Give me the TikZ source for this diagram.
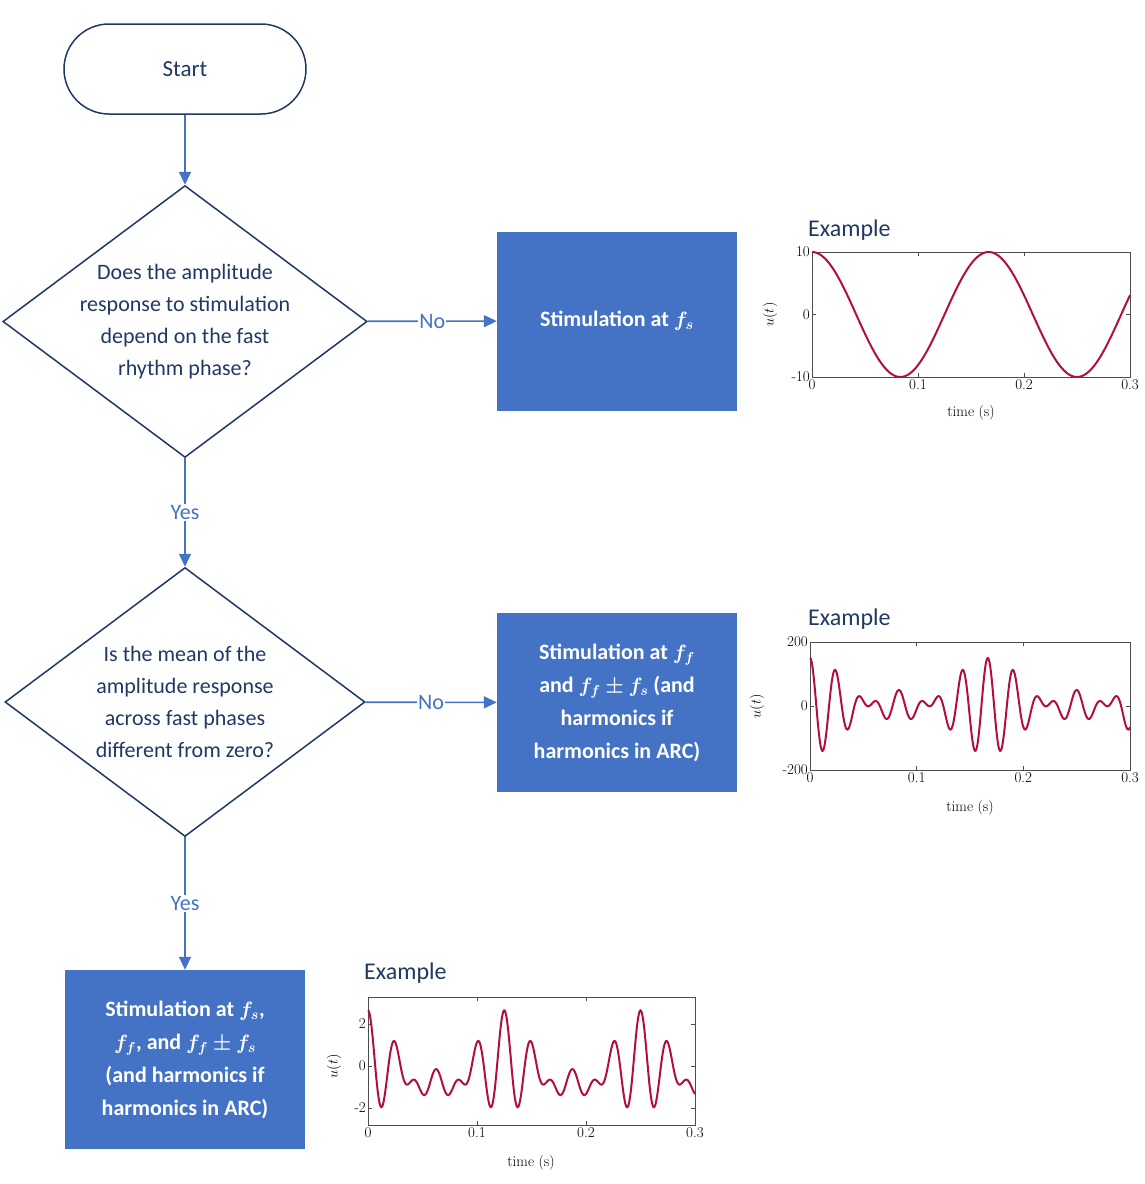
\documentclass[tikz,border=0pt]{standalone}
\usepackage{amsmath,bm}
\usepackage{fontspec}
\setmainfont{Carlito}
\usetikzlibrary{shapes.geometric,arrows.meta}
\definecolor{ln}{HTML}{4472C4}
\definecolor{dk}{HTML}{203864}
\definecolor{sig}{HTML}{B0103A}
\newfontfamily\lm{Latin Modern Roman}
\tikzset{
 x=1pt,y=-1pt,
 arr/.style={draw=ln,line width=1.6pt,-{Triangle[length=13pt,width=12pt]}},
 lab/.style={fill=white,text=ln,font=\fontsize{22}{26}\selectfont,inner sep=1pt},
 dia/.style={diamond,draw=dk,line width=1.5pt,minimum width=360pt,minimum height=269pt,aspect=1.34,inner sep=0pt,text=dk,font=\fontsize{22}{32}\selectfont,align=center},
 box/.style={fill=ln,minimum width=240pt,minimum height=179pt,text=white,font=\bfseries\fontsize{22}{33}\selectfont,align=center,inner sep=2pt},
 ttl/.style={text=dk,font=\fontsize{24}{28}\selectfont,anchor=south west,inner sep=0pt},
 tk/.style={font=\lm\fontsize{15}{17}\selectfont,inner sep=2pt},
 ax/.style={draw=black!70,line width=0.8pt},
 sg/.style={draw=sig,line width=2pt}
}
\begin{document}
\begin{tikzpicture}
\useasboundingbox (0,0) rectangle (1145,1184);
\node[draw=dk,line width=1.5pt,rounded corners=45pt,minimum width=242pt,minimum height=90pt,text=dk,font=\fontsize{23}{26}\selectfont] (start) at (185,69) {Start};
\node[dia] (d1) at (185,321.5) {Does the amplitude\\response to stimulation\\depend on the fast\\rhythm phase?};
\node[dia] (d2) at (185,702) {Is the mean of the\\amplitude response\\across fast phases\\different from zero?};
\node[box] (b1) at (617,321) {Stimulation at $\bm{f_s}$};
\node[box] (b2) at (617,702.5) {Stimulation at $\bm{f_f}$\\and $\bm{f_f\pm f_s}$ (and\\harmonics if\\harmonics in ARC)};
\node[box] (b3) at (185,1059.5) {Stimulation at $\bm{f_s}$,\\$\bm{f_f}$, and $\bm{f_f\pm f_s}$\\(and harmonics if\\harmonics in ARC)};
\draw[arr] (start) -- (d1);
\draw[arr] (d1) -- node[lab]{No} (b1);
\draw[arr] (d1) -- node[lab,pos=0.5]{Yes} (d2);
\draw[arr] (d2) -- node[lab]{No} (b2);
\draw[arr] (d2) -- node[lab,pos=0.5]{Yes} (b3);
% plot 1
\node[ttl] (t1) at (808,241) {Example};
\draw[ax] (812,252) rectangle (1130,377);
\foreach \i/\l in {0/0,1/0.1,2/0.2,3/0.3}{\draw[ax] ({812+\i*106},377) -- ++(0,-4) ({812+\i*106},252) -- ++(0,4); \node[tk,below] at ({812+\i*106},377) {\l};}
\foreach \v/\l in {10/10,0/0,-10/-10}{\draw[ax] (812,{314.5-\v*6.25}) -- ++(4,0) (1130,{314.5-\v*6.25}) -- ++(-4,0); \node[tk,left] at (812,{314.5-\v*6.25}) {\l};}
\node[tk] at (971,413) {time (s)};
\node[tk,rotate=90] at (770,314.5) {$u(t)$};
\draw[sg,samples=300,domain=0:108] plot ({812+\x/108*318},{314.5-6.25*10*cos(6*\x)});
% plot 2
\node[ttl] (t2) at (808,630) {Example};
\draw[ax] (810,642) rectangle (1130,770);
\foreach \i/\l in {0/0,1/0.1,2/0.2,3/0.3}{\draw[ax] ({810+\i*106.67},770) -- ++(0,-4) ({810+\i*106.67},642) -- ++(0,4); \node[tk,below] at ({810+\i*106.67},770) {\l};}
\foreach \v/\l in {200/200,0/0,-200/-200}{\draw[ax] (810,{706-\v*0.32}) -- ++(4,0) (1130,{706-\v*0.32}) -- ++(-4,0); \node[tk,left] at (810,{706-\v*0.32}) {\l};}
\node[tk] at (970,808) {time (s)};
\node[tk,rotate=90] at (757,706) {$u(t)$};
\draw[sg,samples=600,domain=0:108] plot ({810+\x/108*320},{706-0.32*(50*cos(42*\x)+50*cos(48*\x)+50*cos(36*\x))});
% plot 3
\node[ttl] (t3) at (364,984) {Example};
\draw[ax] (368,997) rectangle (695,1125);
\foreach \i/\l in {0/0,1/0.1,2/0.2,3/0.3}{\draw[ax] ({368+\i*109},1125) -- ++(0,-4) ({368+\i*109},997) -- ++(0,4); \node[tk,below] at ({368+\i*109},1125) {\l};}
\foreach \v/\l in {2/2,0/0,-2/-2}{\draw[ax] (368,{1066-\v*21}) -- ++(4,0) (695,{1066-\v*21}) -- ++(-4,0); \node[tk,left] at (368,{1066-\v*21}) {\l};}
\node[tk] at (531,1163) {time (s)};
\node[tk,rotate=90] at (334,1066) {$u(t)$};
\draw[sg,samples=600,domain=0:108] plot ({368+\x/108*327},{1066-21*(0.8*cos(40*\x)+0.8*cos(48*\x)+0.8*cos(32*\x)+0.6*cos(8*\x)-0.35)});
\end{tikzpicture}
\end{document}
